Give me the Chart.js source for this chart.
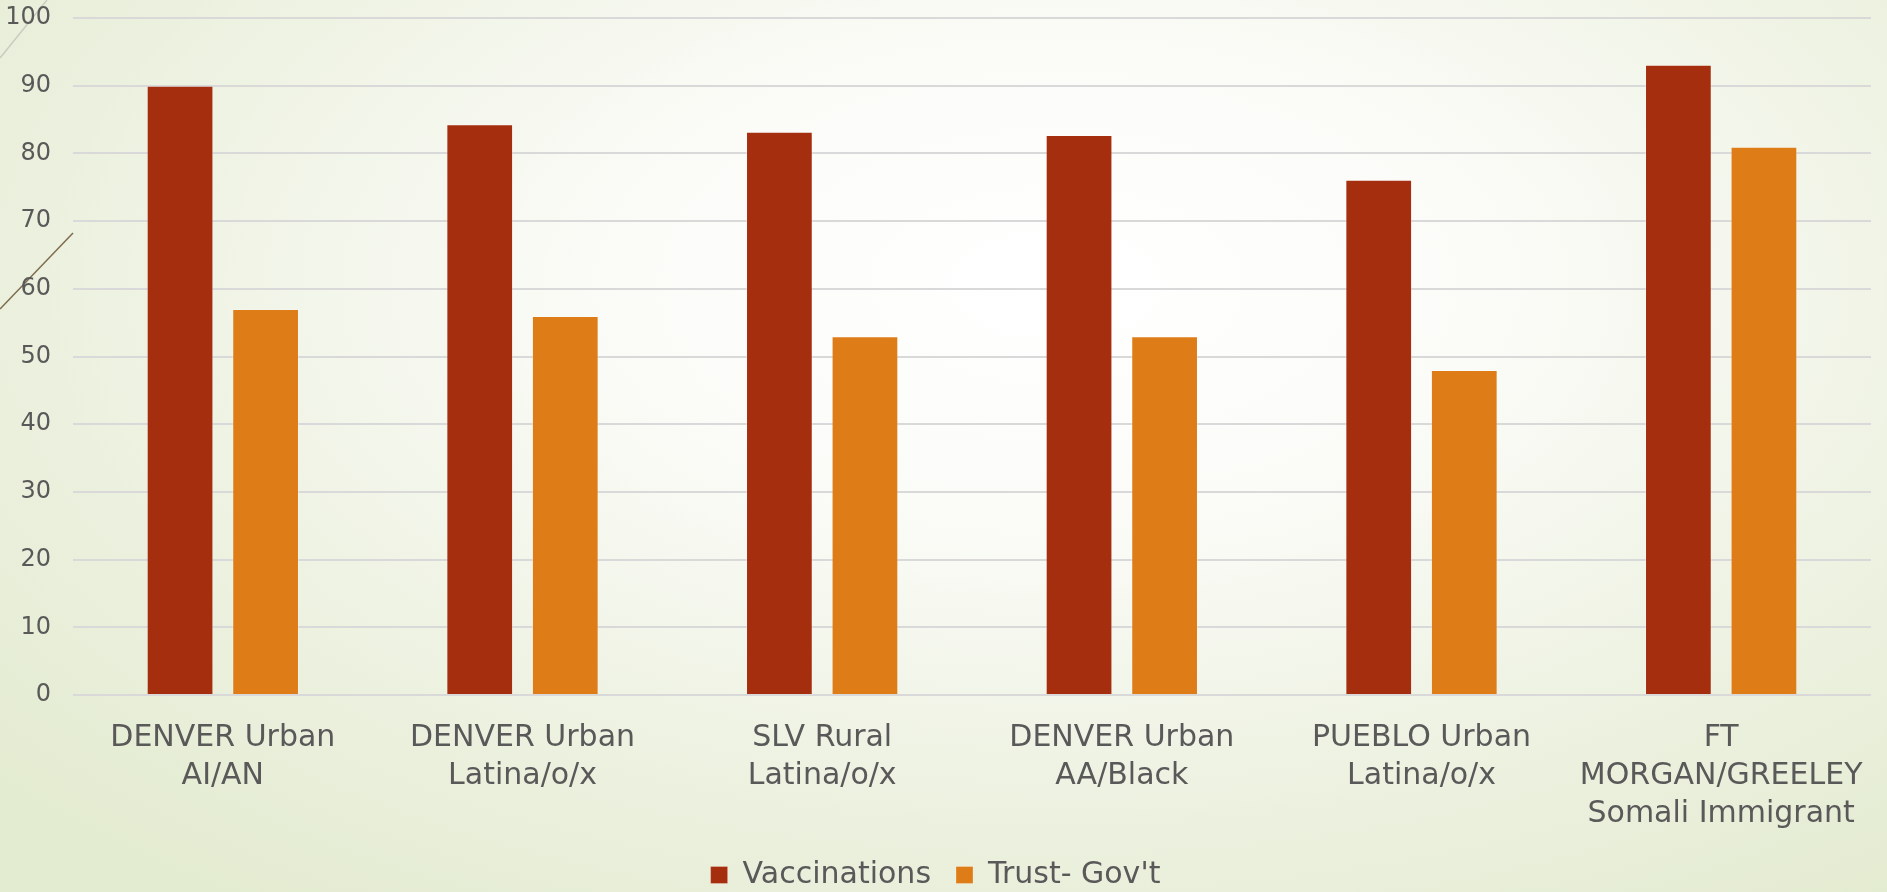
<!DOCTYPE html>
<html>
<head>
<meta charset="utf-8">
<title>Vaccinations and Trust in Government</title>
<script src="https://cdn.jsdelivr.net/npm/chart.js@4.4.1/dist/chart.umd.min.js"></script>
<style>
    html, body {
        margin: 0;
        padding: 0;
        width: 1887px;
        height: 892px;
        overflow: hidden;
    }
    body {
        background: radial-gradient(ellipse 75% 85% at 56% 32%, #ffffff 0%, #fbfcf8 30%, #eff3e4 62%, #e3ebd0 100%);
    }
    #wrap {
        position: relative;
        width: 1887px;
        height: 892px;
    }
</style>
</head>
<body>
<div id="wrap"><canvas id="chart-vacunas"></canvas></div>
<script>
// Community groups and survey percentages
const grupos = [
    ['DENVER Urban', 'AI/AN'],
    ['DENVER Urban', 'Latina/o/x'],
    ['SLV Rural', 'Latina/o/x'],
    ['DENVER Urban', 'AA/Black'],
    ['PUEBLO Urban', 'Latina/o/x'],
    ['FT', 'MORGAN/GREELEY', 'Somali Immigrant'],
];
const vacunas = [90, 84.3, 83.2, 82.7, 76.1, 93.1];
const confianza = [57, 56, 53, 53, 48, 81];
const ejeY = { min: 0, max: 100, step: 10 };

const textColor = '#595959';
const fontFamily = "'Century Gothic', 'DejaVu Sans', sans-serif";

// Thin slanted theme lines on the left edge
const decoracion = {
    id: 'decoracion',
    beforeDraw(chart) {
        const c = chart.ctx;
        c.save();
        c.lineWidth = 1.5;
        c.strokeStyle = '#c9cdbf';
        c.beginPath();
        c.moveTo(0, 58);
        c.lineTo(47, 0);
        c.stroke();
        c.strokeStyle = '#7d6b4c';
        c.beginPath();
        c.moveTo(0, 309);
        c.lineTo(73, 233);
        c.stroke();
        c.restore();
    },
};

const ctx = document.getElementById('chart-vacunas');
new Chart(ctx, {
    type: 'bar',
    data: {
        labels: grupos,
        datasets: [
            {
                label: 'Vaccinations',
                data: vacunas,
                backgroundColor: '#a52e0f',
                borderColor: 'rgba(255,255,255,0.25)',
                borderWidth: 1,
                barPercentage: 0.78,
                categoryPercentage: 0.571,
            },
            {
                label: "Trust- Gov't",
                data: confianza,
                backgroundColor: '#de7c18',
                borderColor: 'rgba(255,255,255,0.25)',
                borderWidth: 1,
                barPercentage: 0.78,
                categoryPercentage: 0.571,
            },
        ],
    },
    options: {
        responsive: true,
        maintainAspectRatio: false,
        animation: false,
        layout: { padding: { top: 18, right: 16, left: 0, bottom: -8 } },
        plugins: {
            legend: {
                position: 'bottom',
                labels: {
                    color: textColor,
                    font: { family: fontFamily, size: 30 },
                    boxWidth: 17,
                    boxHeight: 17,
                    padding: 25,
                },
            },
            tooltip: { enabled: false },
        },
        scales: {
            x: {
                grid: { display: false },
                border: { display: false },
                ticks: {
                    color: textColor,
                    font: { family: fontFamily, size: 30, lineHeight: 1.27 },
                    padding: 16,
                    maxRotation: 0,
                    autoSkip: false,
                },
                afterFit: (scale) => { scale.height = 140; },
            },
            y: {
                min: ejeY.min,
                max: ejeY.max,
                grid: { color: '#d9d9d9', lineWidth: 2, drawTicks: false },
                border: { display: false },
                ticks: {
                    stepSize: ejeY.step,
                    color: textColor,
                    font: { family: fontFamily, size: 24 },
                    padding: 22,
                },
                afterFit: (scale) => {
                    scale.width = 73;
                    scale.paddingTop = 0;
                    scale.paddingBottom = 0;
                },
            },
        },
    },
    plugins: [decoracion],
});
</script>
</body>
</html>
